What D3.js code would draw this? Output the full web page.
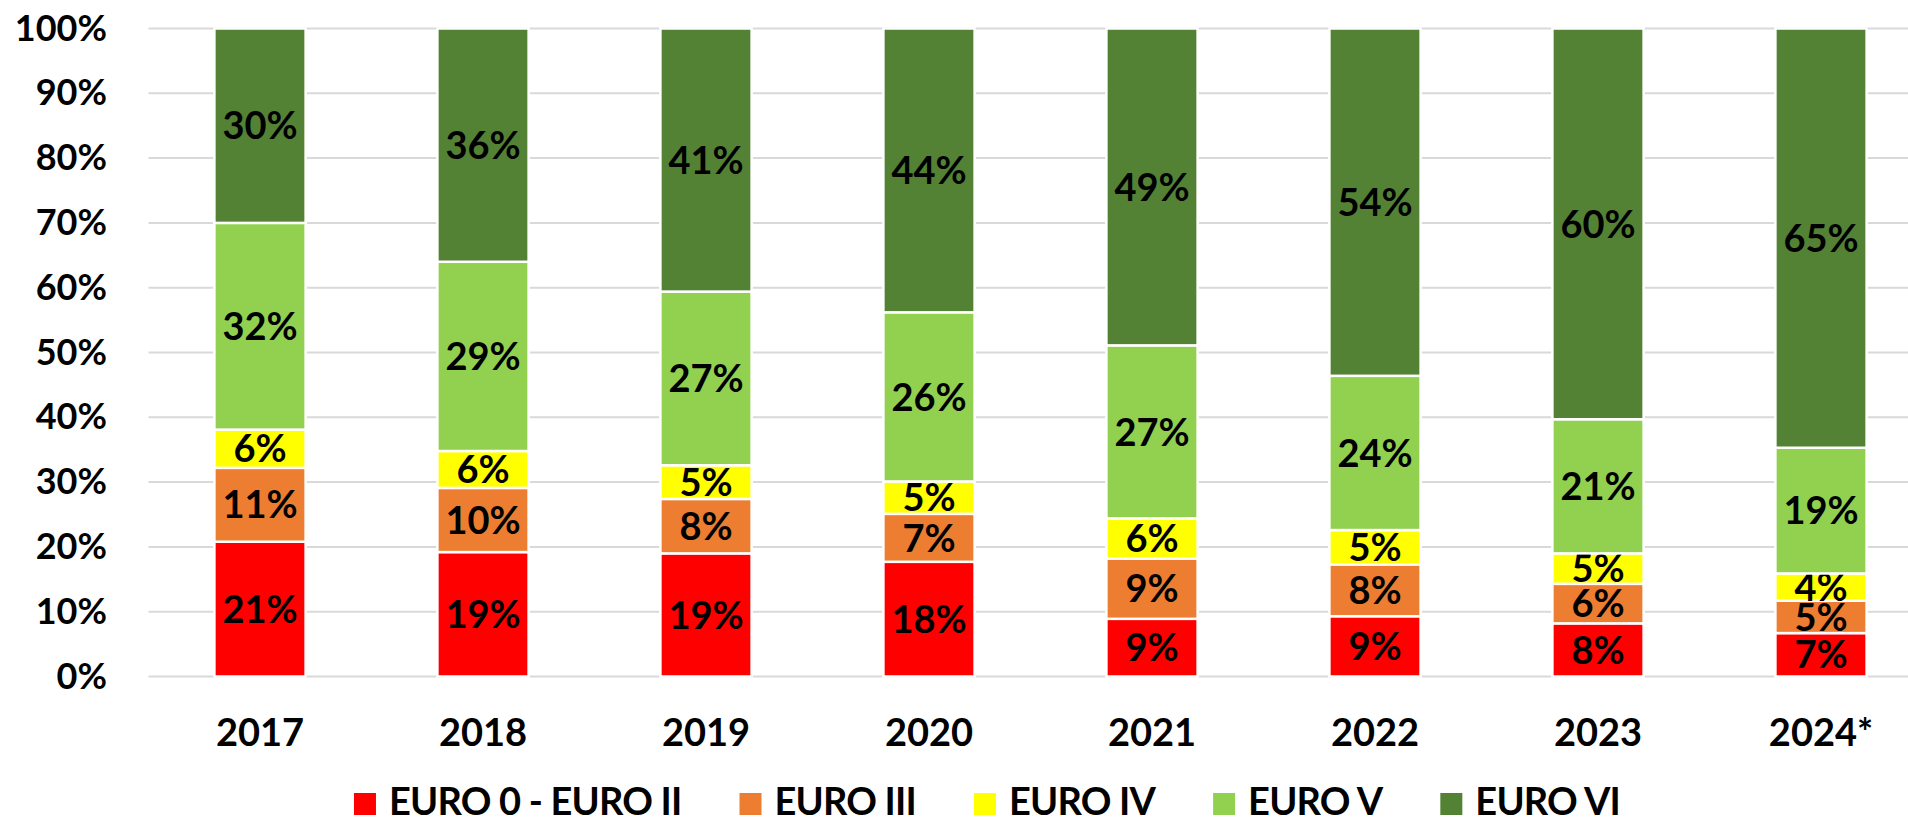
<!DOCTYPE html>
<html>
<head>
<meta charset="utf-8">
<script src="https://cdn.jsdelivr.net/npm/d3@7"></script>
<style>
  html, body { margin: 0; padding: 0; background: #fff; overflow: hidden; }
  svg { display: block; font-family: Lato, 'Open Sans', sans-serif; font-weight: 700; }
</style>
</head>
<body>
<div id="chart"></div>
<script>
const years = ['2017', '2018', '2019', '2020', '2021', '2022', '2023', '2024*'];
const seriesNames = ['EURO 0 - EURO II', 'EURO III', 'EURO IV', 'EURO V', 'EURO VI'];
const seriesColors = ['#ff0000', '#ed7d31', '#ffff00', '#92d050', '#548235'];
const tickValues = [0, 10, 20, 30, 40, 50, 60, 70, 80, 90, 100];

// shares in % per year
const euro0to2 = [20.8, 19.2, 19.0, 17.7, 8.9, 9.3, 8.2, 6.7];
const euro3 = [11.4, 9.9, 8.4, 7.4, 9.3, 8.0, 6.1, 5.0];
const euro4 = [5.9, 5.7, 5.2, 5.0, 6.2, 5.3, 4.7, 4.2];
const euro5 = [31.9, 29.2, 26.8, 26.1, 26.7, 23.8, 20.7, 19.4];
const euro6 = [30.0, 36.0, 40.6, 43.8, 48.9, 53.6, 60.3, 64.7];

const width = 1908;
const height = 823;
const keys = ['s0', 's1', 's2', 's3', 's4'];
const table = years.map((year, i) => ({
  year: year,
  s0: euro0to2[i],
  s1: euro3[i],
  s2: euro4[i],
  s3: euro5[i],
  s4: euro6[i]
}));

const svg = d3
  .select('#chart')
  .append('svg')
  .attr('width', width)
  .attr('height', height);

const x = d3
  .scaleBand()
  .domain(years)
  .range([148.5, 1932.5])
  .paddingInner(0.6)
  .paddingOuter(0.3);

const y = d3.scaleLinear().domain([0, 100]).range([676.5, 28.5]);

// gridlines
svg
  .append('g')
  .selectAll('line')
  .data(tickValues)
  .join('line')
  .attr('x1', 148.5)
  .attr('x2', width)
  .attr('y1', (d) => y(d))
  .attr('y2', (d) => y(d))
  .attr('stroke', '#d9d9d9')
  .attr('stroke-width', 2);

// y axis labels
const yAxis = svg
  .append('g')
  .attr('transform', 'translate(107,0)')
  .call(d3.axisLeft(y).tickValues(tickValues).tickSize(0).tickPadding(0).tickFormat((d) => d + '%'));
yAxis.select('.domain').remove();
yAxis
  .selectAll('text')
  .attr('font-family', 'Lato, sans-serif')
  .attr('font-weight', 700)
  .attr('font-size', 36)
  .attr('fill', '#000');

// x axis labels
const xAxis = svg
  .append('g')
  .attr('transform', 'translate(0,' + y(0) + ')')
  .call(d3.axisBottom(x).tickSize(0).tickPadding(0));
xAxis.select('.domain').remove();
xAxis
  .selectAll('text')
  .attr('dy', null)
  .attr('y', 69)
  .attr('font-family', 'Lato, sans-serif')
  .attr('font-weight', 700)
  .attr('font-size', 38)
  .attr('fill', '#000');

const stacked = d3.stack().keys(keys)(table);

const layers = svg
  .append('g')
  .selectAll('g')
  .data(stacked)
  .join('g')
  .attr('fill', (d, i) => seriesColors[i]);

layers
  .selectAll('rect')
  .data((d) => d)
  .join('rect')
  .attr('x', (d) => x(d.data.year) - 1)
  .attr('width', x.bandwidth() + 2)
  .attr('y', (d) => y(d[1]))
  .attr('height', (d) => y(d[0]) - y(d[1]))
  .attr('stroke', '#fff')
  .attr('stroke-width', 2.5);

// data labels
layers
  .selectAll('text')
  .data((d) => d)
  .join('text')
  .attr('x', (d) => x(d.data.year) + x.bandwidth() / 2)
  .attr('y', (d) => (y(d[0]) + y(d[1])) / 2)
  .attr('dy', '0.36em')
  .attr('text-anchor', 'middle')
  .attr('font-size', 38)
  .attr('fill', '#000')
  .text((d) => Math.round(d[1] - d[0]) + '%');

// legend
const legend = svg.append('g').attr('transform', 'translate(0,815)');
const items = legend
  .selectAll('g')
  .data(seriesNames)
  .join('g');
items
  .append('rect')
  .attr('y', -22)
  .attr('width', 22)
  .attr('height', 22)
  .attr('fill', (d, i) => seriesColors[i]);
items
  .append('text')
  .attr('x', 35)
  .attr('font-size', 38)
  .attr('letter-spacing', -0.8)
  .attr('fill', '#000')
  .text((d) => d);

let offset = 0;
const positions = [];
items.each(function () {
  positions.push(offset);
  const w = d3.select(this).select('text').node().getComputedTextLength();
  offset += 35 + w + 58;
});
const total = offset - 58;
const start = 987 - total / 2;
items.attr('transform', (d, i) => 'translate(' + (start + positions[i]) + ',0)');
</script>
</body>
</html>
